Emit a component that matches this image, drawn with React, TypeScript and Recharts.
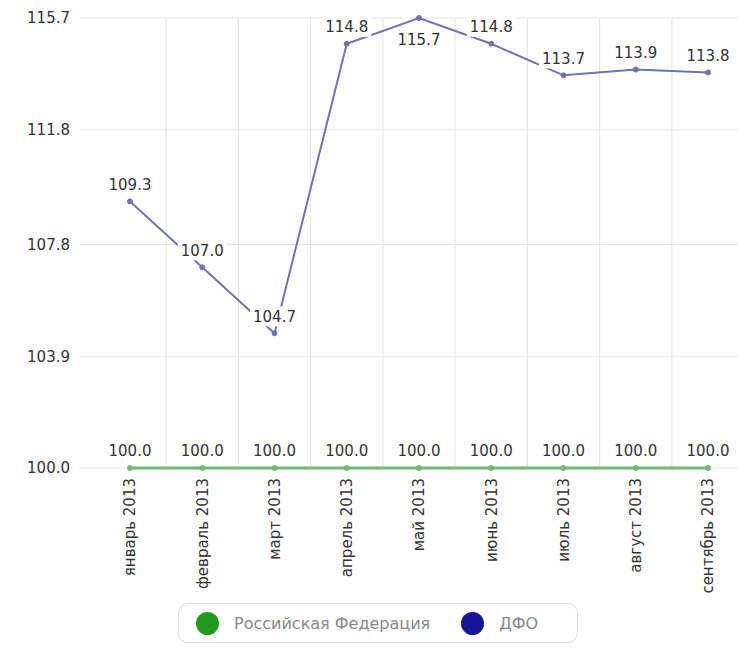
import React from 'react';
import { LineChart, Line, XAxis, YAxis, CartesianGrid, LabelList } from 'recharts';

const months = [
  'январь 2013',
  'февраль 2013',
  'март 2013',
  'апрель 2013',
  'май 2013',
  'июнь 2013',
  'июль 2013',
  'август 2013',
  'сентябрь 2013',
];
const rfValues = [100.0, 100.0, 100.0, 100.0, 100.0, 100.0, 100.0, 100.0, 100.0];
const dfoValues = [109.3, 107.0, 104.7, 114.8, 115.7, 114.8, 113.7, 113.9, 113.8];
const yTicks = [100.0, 103.9, 107.8, 111.8, 115.7];

const seriesNames = ['Российская Федерация', 'ДФО'];
const lineColors = ['#72b872', '#7272b4'];
const legendColors = ['#1f9a1f', '#16169a'];

const chartData = months.map((m, i) => ({ month: m, rf: rfValues[i], dfo: dfoValues[i] }));

const FONT = '"DejaVu Sans", Verdana, sans-serif';
const xPad = { left: 50, right: 34 };
const dfoMax = Math.max(...dfoValues);

const ValueLabel = (props: any) => {
  const { x, y, value } = props;
  if (x == null || y == null || value == null) return null;
  const below = value === dfoMax && value > 100;
  const cy = below ? y + 22 : y - 17;
  const text = Number(value).toFixed(1);
  const w = text.length * 8.6 + 6;
  return (
    <g>
      <rect x={x - w / 2} y={cy - 10} width={w} height={20} fill="#ffffff" />
      <text x={x} y={cy} dy="0.35em" textAnchor="middle" fontSize={15} fontFamily={FONT} fill="#333">
        {text}
      </text>
    </g>
  );
};

const MonthTick = (props: any) => {
  const { x, payload } = props;
  const y = 478;
  return (
    <text
      x={x}
      y={y}
      transform={`rotate(-90, ${x}, ${y})`}
      textAnchor="end"
      dy="0.35em"
      fontSize={15}
      fontFamily={FONT}
      fill="#333"
    >
      {payload.value}
    </text>
  );
};

// vertical grid lines sit halfway between categories
const gridVerticals = ({ offset }: any) => {
  const first = offset.left + xPad.left;
  const step = (offset.width - xPad.left - xPad.right) / (months.length - 1);
  return months.slice(1).map((_, i) => first + step * (i + 0.5));
};

export default function App() {
  return (
    <div
      style={{
        position: 'absolute',
        left: 0,
        top: 0,
        width: 738,
        height: 649,
        overflow: 'hidden',
        background: '#fff',
      }}
    >
      <LineChart width={742} height={649} data={chartData} margin={{ top: 18, right: 0, left: 0, bottom: 0 }}>
        <CartesianGrid stroke="#e4e4e4" verticalCoordinatesGenerator={gridVerticals} />
        <XAxis
          dataKey="month"
          height={181}
          axisLine={false}
          tickLine={false}
          interval={0}
          padding={xPad}
          tick={<MonthTick />}
        />
        <YAxis
          width={80}
          domain={[100, 115.7]}
          ticks={yTicks}
          axisLine={false}
          tickLine={false}
          tickSize={8}
          tickMargin={2}
          tickFormatter={(v: number) => v.toFixed(1)}
          tick={{ fontSize: 15, fontFamily: FONT, fill: '#333' }}
        />
        <Line
          dataKey="rf"
          name={seriesNames[0]}
          stroke={lineColors[0]}
          strokeWidth={3}
          dot={{ r: 2.5, fill: lineColors[0], stroke: lineColors[0], strokeWidth: 1 }}
          isAnimationActive={false}
        >
          <LabelList dataKey="rf" content={<ValueLabel />} />
        </Line>
        <Line
          dataKey="dfo"
          name={seriesNames[1]}
          stroke={lineColors[1]}
          strokeWidth={2}
          dot={{ r: 2.5, fill: lineColors[1], stroke: lineColors[1], strokeWidth: 1 }}
          isAnimationActive={false}
        >
          <LabelList dataKey="dfo" content={<ValueLabel />} />
        </Line>
      </LineChart>
      <div
        style={{
          position: 'absolute',
          left: 178,
          top: 603,
          width: 400,
          height: 40,
          boxSizing: 'border-box',
          border: '1px solid #dddddd',
          borderRadius: 10,
          background: '#fff',
          display: 'flex',
          alignItems: 'center',
          paddingLeft: 17,
          fontFamily: FONT,
          fontSize: 16,
          color: '#888',
        }}
      >
        {seriesNames.map((name, i) => (
          <div key={name} style={{ display: 'flex', alignItems: 'center', marginRight: 31 }}>
            <span
              style={{
                width: 23,
                height: 23,
                borderRadius: '50%',
                background: legendColors[i],
                display: 'inline-block',
                marginRight: 15,
              }}
            />
            <span style={{ whiteSpace: 'nowrap' }}>{name}</span>
          </div>
        ))}
      </div>
    </div>
  );
}
